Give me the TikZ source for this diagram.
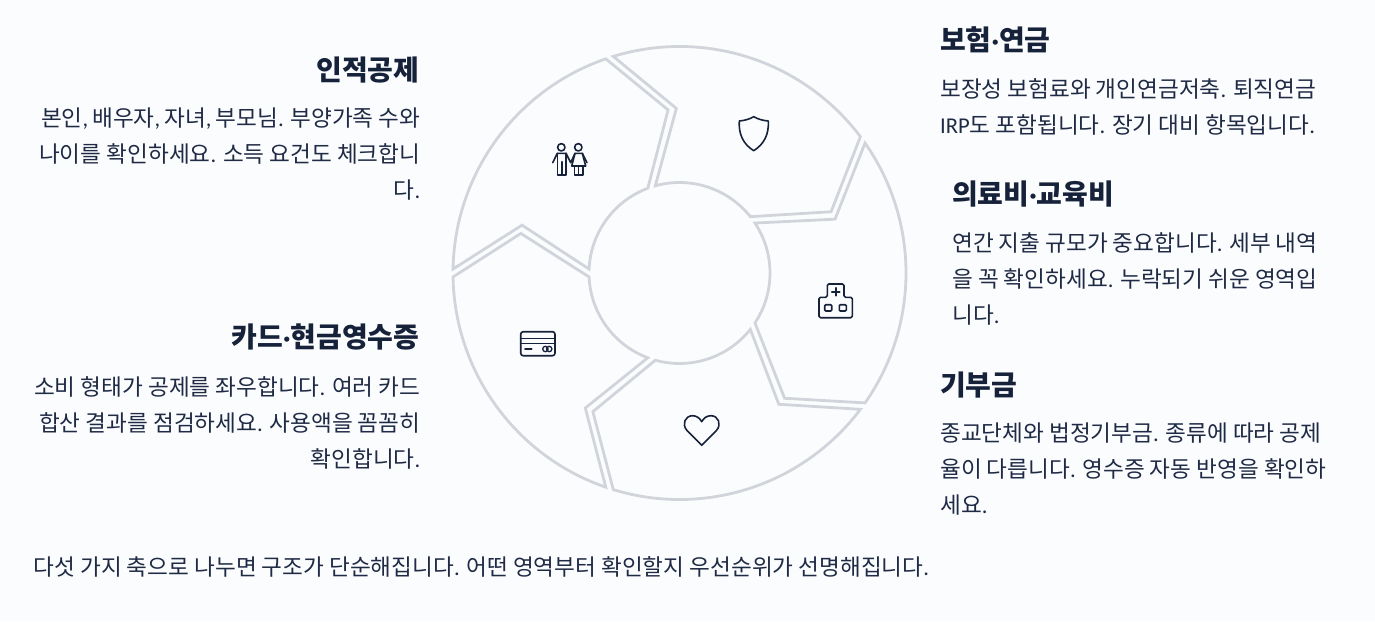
\documentclass[tikz,border=0pt]{standalone}
\usepackage{fontspec}
\setmainfont{Noto Sans CJK KR}
\newfontfamily\latn{Carlito}
\newcommand{\cmm}{{\latn ,}\kern-1pt}
\newcommand{\pdd}{{\latn .}}
\newcommand{\mdd}{{\latn ·}}
\definecolor{pagebg}{HTML}{FBFCFE}
\definecolor{ringline}{HTML}{D1D5DB}
\definecolor{inkdark}{HTML}{16213A}
\definecolor{inktext}{HTML}{1F2A44}
\tikzset{
	titletext/.style={inner sep=0pt,text=inkdark,font=\fontsize{28}{32}\selectfont\bfseries},
	bodytext/.style={inner sep=0pt,text=inktext,font=\fontsize{22.6}{36}\selectfont},
	wheelpart/.style={draw=ringline,line width=2.8pt,line join=miter},
	iconline/.style={draw=inkdark,line width=1.6pt,line join=round,line cap=round}
}

\begin{document}
\begin{tikzpicture}[x=1pt,y=-1pt]
	\fill[pagebg] (0,0) rectangle (1375,621);
	\useasboundingbox (0,0) rectangle (1375,621);
	% five arrow segments
	\foreach \ang in {0,72,144,216,288} {
		\begin{scope}[shift={(679.5,273)},y=1pt,rotate=\ang]
			\draw[wheelpart] (35:226.5) arc[start angle=35,end angle=-35,radius=226.5pt]
				-- (-50:163.5) -- (-33.5:90.5)
				arc[start angle=-33.5,end angle=33.5,radius=90.5pt]
				-- (19.1:164.6) -- cycle;
		\end{scope}
	}
	% people
	\draw[iconline] (561.3,147.3) circle[radius=3.7pt] (578.3,147.3) circle[radius=3.7pt];
	\draw[iconline] (552.7,162.7) -- (557.3,153.3) -- (566,153.3) -- (570.7,162.7) -- (575,153.3) -- (582.3,153.3) -- (587,162.7);
	\draw[iconline] (557.3,153.3) -- (557.3,175) -- (566,175) -- (566,153.3) (561.7,161.7) -- (561.7,175);
	\draw[iconline] (575,153.3) -- (571.7,166) -- (585.7,166) -- (582.3,153.3);
	\draw[iconline] (574.3,166) -- (574.3,175) -- (582.7,175) -- (582.7,166) (578.3,166) -- (578.3,175);
	% shield
	\draw[iconline] (753.7,116.7) .. controls (749,119.5) and (744,120.5) .. (739.3,121)
		.. controls (738.5,134) and (743,144) .. (753.7,150.7)
		.. controls (764.4,144) and (769,134) .. (768.3,121)
		.. controls (763.4,120.5) and (758.4,119.5) .. (753.7,116.7) -- cycle;
	% hospital
	\draw[iconline,rounded corners=1.5pt] (827.3,297.3) -- (827.3,284) -- (844,284) -- (844,297.3) -- (852.3,297.3) -- (852.3,317.7) -- (819,317.7) -- (819,297.3) -- cycle;
	\draw[iconline] (831.7,291.7) -- (839.7,291.7) (835.7,287.7) -- (835.7,295.7);
	\draw[iconline,rounded corners=1pt] (824.7,304.7) rectangle (831.7,311) (839.3,304.7) rectangle (846.3,311);
	% heart
	\draw[iconline] (701.7,445.3) -- (687,430.5)
		.. controls (681.5,424.5) and (685,415.7) .. (692.5,415.7)
		.. controls (696.5,415.7) and (699.7,418) .. (701.7,421.7)
		.. controls (703.7,418) and (706.9,415.7) .. (710.9,415.7)
		.. controls (718.4,415.7) and (721.9,424.5) .. (716.4,430.5) -- cycle;
	% card
	\draw[iconline,rounded corners=2.5pt] (520.7,331.7) rectangle (555,355.7);
	\draw[iconline] (520.7,338.3) -- (555,338.3) (520.7,343.3) -- (555,343.3) (525,349) -- (531.7,349);
	\draw[iconline,line width=1.3pt] (545.4,349) circle[radius=2.7pt] (549.2,349) circle[radius=2.7pt];
	% left column
	\node[titletext,anchor=east] (persontitle) at (419.5,70) {인적공제};
	\node[bodytext,anchor=north east,align=right] (personbody) at (420.5,107.5) {본인\cmm{} 배우자\cmm{} 자녀\cmm{} 부모님\pdd{} 부양가족 수와\\나이를 확인하세요\pdd{} 소득 요건도 체크합니\\다\pdd};
	\node[titletext,anchor=east] (cardtitle) at (419.5,337) {카드\mdd{}현금영수증};
	\node[bodytext,anchor=north east,align=right] (cardbody) at (420.5,376.5) {소비 형태가 공제를 좌우합니다\pdd{} 여러 카드\\합산 결과를 점검하세요\pdd{} 사용액을 꼼꼼히\\확인합니다\pdd};
	% right column
	\node[titletext,anchor=west] (insuretitle) at (940,40) {보험\mdd{}연금};
	\node[bodytext,anchor=north west,align=left] (insurebody) at (940,78.5) {보장성 보험료와 개인연금저축\pdd{} 퇴직연금\\{\latn IRP}도 포함됩니다\pdd{} 장기 대비 항목입니다\pdd};
	\node[titletext,anchor=west] (medictitle) at (952,194) {의료비\mdd{}교육비};
	\node[bodytext,anchor=north west,align=left] (medicbody) at (952,232.5) {연간 지출 규모가 중요합니다\pdd{} 세부 내역\\을 꼭 확인하세요\pdd{} 누락되기 쉬운 영역입\\니다\pdd};
	\node[titletext,anchor=west] (donatetitle) at (940,385) {기부금};
	\node[bodytext,anchor=north west,align=left] (donatebody) at (940,422.5) {종교단체와 법정기부금\pdd{} 종류에 따라 공제\\율이 다릅니다\pdd{} 영수증 자동 반영을 확인하\\세요\pdd};
	% bottom line
	\node[bodytext,anchor=west] (summary) at (33.5,567) {다섯 가지 축으로 나누면 구조가 단순해집니다\pdd{} 어떤 영역부터 확인할지 우선순위가 선명해집니다\pdd};
\end{tikzpicture}
\end{document}
